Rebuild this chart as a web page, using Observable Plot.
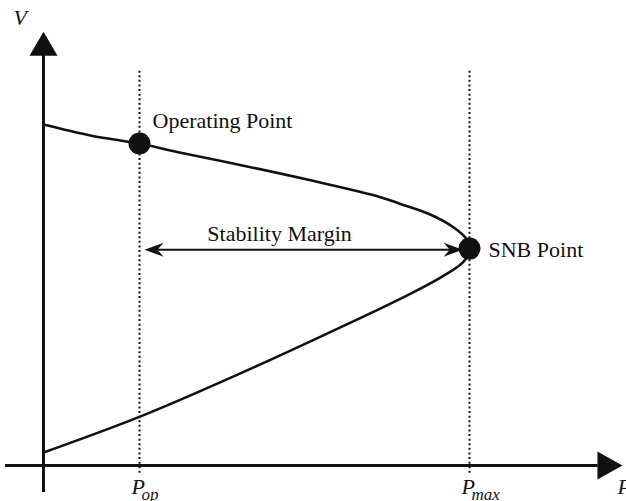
<!DOCTYPE html>
<html><head><meta charset="utf-8">
<script src="https://cdn.jsdelivr.net/npm/d3@7"></script>
<script src="https://cdn.jsdelivr.net/npm/@observablehq/plot@0.6"></script>
<style>body{margin:0;background:#fff}</style>
</head><body><div id="chart"></div>
<script>
// PV (nose) curve, P normalised to Pmax = 1, V in p.u.; upper branch then lower branch
const curveP = [0, 0.110, 0.225, 0.322, 0.478, 0.635, 0.791, 0.838, 0.908, 0.963, 0.992, 0.998, 1.0, 0.998, 0.992, 0.977, 0.932, 0.854, 0.697, 0.462, 0.228, 0];
const curveV = [1.0, 0.968, 0.944, 0.917, 0.877, 0.834, 0.787, 0.767, 0.736, 0.698, 0.666, 0.651, 0.636, 0.622, 0.607, 0.587, 0.551, 0.499, 0.405, 0.270, 0.144, 0.038];

// Highlighted points
const pointNames = ["Operating Point", "SNB Point"];
const pointP = [0.2254, 1.0];
const pointV = [0.944, 0.636];

// Axis extents (P axis, V axis)
const pAxisRange = [-0.089, 1.359];
const vAxisRange = [-0.079, 1.272];
const guideRange = [-0.023, 1.158];

// Stability margin arrow ends and level
const marginEnds = [0.237, 0.984];
const marginLevel = 0.633;
const marginLabel = "Stability Margin";

// Tick labels on the P axis
const tickMain = ["P", "P"];
const tickSub = ["op", "max"];
const axisNames = ["V", "P"];

const curve = curveP.map((p, i) => ({p, v: curveV[i]}));
const points = pointNames.map((name, i) => ({name, p: pointP[i], v: pointV[i]}));
const ticks = tickMain.map((t, i) => ({t, sub: tickSub[i], p: pointP[i]}));

// custom symbols: origin at the tip
const sym = (pts) => ({
  draw(ctx, size) {
    const k = Math.sqrt(size / Math.PI) / 10;
    ctx.moveTo(pts[0][0] * k, pts[0][1] * k);
    for (let i = 1; i < pts.length; i++) ctx.lineTo(pts[i][0] * k, pts[i][1] * k);
    ctx.closePath();
  }
});
const triUp = sym([[0, 0], [14, 24], [-14, 24]]);
const triRight = sym([[0, 0], [-25, -14], [-25, 14]]);
const stealthLeft = sym([[0, 0], [19, -7], [13, 0], [19, 7]]);
const stealthRight = sym([[0, 0], [-19, -7], [-13, 0], [-19, 7]]);

const ink = "#111";
const serif = "Liberation Serif, Times New Roman, serif";

const chart = Plot.plot({
  width: 626,
  height: 501,
  marginLeft: 43,
  marginRight: 157,
  marginTop: 124,
  marginBottom: 36,
  x: {domain: [0, 1], axis: null},
  y: {domain: [0, 1], axis: null},
  style: {background: "#fff", fontFamily: serif, overflow: "visible"},
  marks: [
    // guide lines
    Plot.ruleX([pointP[0], pointP[1]], {y1: guideRange[0], y2: guideRange[1], stroke: ink, strokeWidth: 2, strokeDasharray: "2,2.6"}),
    // axes
    Plot.ruleY([0], {x1: pAxisRange[0], x2: pAxisRange[1] - 0.057, stroke: ink, strokeWidth: 3}),
    Plot.ruleX([0], {y1: vAxisRange[0], y2: vAxisRange[1] - 0.068, stroke: ink, strokeWidth: 3}),
    Plot.dot([{p: pAxisRange[1], v: 0}], {x: "p", y: "v", r: 10, symbol: triRight, fill: ink, stroke: "none"}),
    Plot.dot([{p: 0, v: vAxisRange[1]}], {x: "p", y: "v", r: 10, symbol: triUp, fill: ink, stroke: "none"}),
    // PV curve
    Plot.line(curve, {x: "p", y: "v", curve: "catmull-rom", stroke: ink, strokeWidth: 2.6}),
    // stability margin arrow
    Plot.ruleY([marginLevel], {x1: marginEnds[0] + 0.01, x2: marginEnds[1] - 0.01, stroke: ink, strokeWidth: 2}),
    Plot.dot([{p: marginEnds[0], v: marginLevel}], {x: "p", y: "v", r: 10, symbol: stealthLeft, fill: ink, stroke: "none"}),
    Plot.dot([{p: marginEnds[1], v: marginLevel}], {x: "p", y: "v", r: 10, symbol: stealthRight, fill: ink, stroke: "none"}),
    Plot.text([marginLabel], {x: (marginEnds[0] + marginEnds[1]) / 2, y: marginLevel, text: d => d, dx: -24, dy: -9, lineAnchor: "bottom", textAnchor: "middle", fontSize: 22, fill: ink}),
    // points
    Plot.dot(points, {x: "p", y: "v", r: 11, fill: ink, stroke: "none"}),
    Plot.text([points[0]], {x: "p", y: "v", text: "name", dx: 13, dy: -16, lineAnchor: "bottom", textAnchor: "start", fontSize: 22, fill: ink}),
    Plot.text([points[1]], {x: "p", y: "v", text: "name", dx: 19, dy: 8, lineAnchor: "bottom", textAnchor: "start", fontSize: 22, fill: ink}),
    // tick labels
    Plot.text(ticks, {x: "p", y: 0, text: "t", dx: -8, dy: 28, lineAnchor: "bottom", textAnchor: "start", fontSize: 22, fontStyle: "italic", fill: ink}),
    Plot.text(ticks, {x: "p", y: 0, text: "sub", dx: 2, dy: 34, lineAnchor: "bottom", textAnchor: "start", fontSize: 17, fontStyle: "italic", fill: ink}),
    // axis names
    Plot.text([axisNames[0]], {x: 0, y: vAxisRange[1], text: d => d, dx: -30, dy: -7, lineAnchor: "bottom", textAnchor: "start", fontSize: 22, fontStyle: "italic", fill: ink}),
    Plot.text([axisNames[1]], {x: pAxisRange[1], y: 0, text: d => d, dx: -5, dy: 28, lineAnchor: "bottom", textAnchor: "start", fontSize: 22, fontStyle: "italic", fill: ink})
  ]
});
document.getElementById("chart").appendChild(chart);
</script>
</body></html>
